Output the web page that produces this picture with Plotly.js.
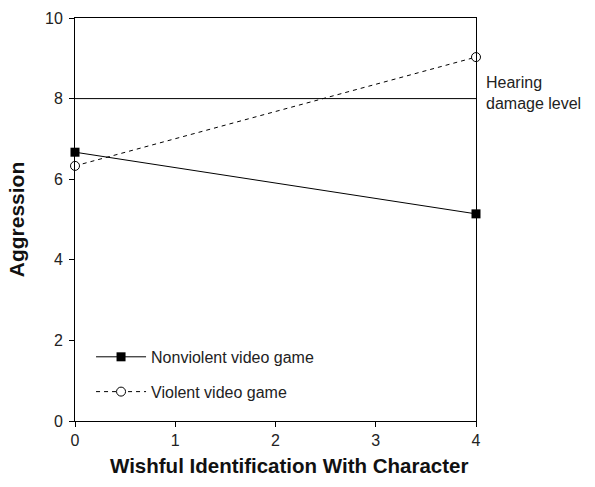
<!DOCTYPE html>
<html>
<head>
<meta charset="utf-8">
<script src="https://cdn.plot.ly/plotly-3.0.1.min.js"></script>
<style>html,body{margin:0;padding:0;background:#fff;}#chart{width:595px;height:487px;}</style>
</head>
<body>
<div id="chart"></div>
<script>
const identification = [0, 4];
const nonviolent = [6.67, 5.14];
const violent = [6.33, 9.03];
const seriesNames = ["Nonviolent video game", "Violent video game"];
const hearingLevel = 8;
const hearingLabel = "Hearing<br>damage level";
const xTitle = "Wishful Identification With Character";
const yTitle = "Aggression";
const xTicks = [0, 1, 2, 3, 4];
const yTicks = [0, 2, 4, 6, 8, 10];

const FONT = "Liberation Sans, Arial, sans-serif";

const traces = [
  {
    x: identification, y: nonviolent, name: seriesNames[0], type: "scatter", mode: "lines+markers",
    line: {color: "#000", width: 1},
    marker: {symbol: "square", size: 9, color: "#000"},
    cliponaxis: false, legendgroup: "a"
  },
  {
    x: identification, y: violent, name: seriesNames[1], type: "scatter", mode: "lines+markers",
    line: {color: "#000", width: 1, dash: "4px,4px"},
    marker: {symbol: "circle", size: 9, color: "#fff", line: {width: 1, color: "#000"}},
    cliponaxis: false, legendgroup: "b"
  }
];

const layout = {
  width: 595, height: 487,
  margin: {l: 75, r: 119, t: 18, b: 66},
  paper_bgcolor: "#fff", plot_bgcolor: "#fff",
  font: {family: FONT, size: 16, color: "#222"},
  showlegend: true,
  legend: {
    x: 0.04, y: 0.03, xanchor: "left", yanchor: "bottom",
    bgcolor: "rgba(0,0,0,0)", font: {family: FONT, size: 16, color: "#222"},
    tracegroupgap: 11, traceorder: "grouped", itemwidth: 50
  },
  xaxis: {
    range: [0, 4], tickvals: xTicks, ticktext: xTicks.map(String),
    showgrid: false, zeroline: false, showline: true, linecolor: "#000", linewidth: 1, mirror: true,
    ticks: "outside", ticklen: 5, tickcolor: "#000", tickfont: {size: 16, color: "#222"},
    fixedrange: true
  },
  yaxis: {
    range: [0, 10], tickvals: yTicks, ticktext: yTicks.map(String),
    showgrid: false, zeroline: false, showline: true, linecolor: "#000", linewidth: 1, mirror: true,
    ticks: "outside", ticklen: 5, tickcolor: "#000", tickfont: {size: 16, color: "#222"},
    ticklabelstandoff: 3,
    title: {text: yTitle, font: {size: 21, color: "#111", family: FONT, weight: "bold"}, standoff: 14},
    fixedrange: true
  },
  shapes: [
    {type: "line", xref: "paper", x0: 0, x1: 1, yref: "y", y0: hearingLevel, y1: hearingLevel, line: {color: "#000", width: 1}}
  ],
  annotations: [
    {xref: "paper", x: 1.02, xanchor: "left", yref: "y", y: hearingLevel + 0.15, yanchor: "middle",
     text: hearingLabel, showarrow: false, align: "left", font: {family: FONT, size: 16, color: "#222"}},
    {xref: "paper", x: 0.534, xanchor: "center", yref: "paper", y: -0.11, yanchor: "middle",
     text: "<b>" + xTitle + "</b>", showarrow: false, font: {family: FONT, size: 20.5, color: "#111"}}
  ]
};

Plotly.newPlot("chart", traces, layout, {displayModeBar: false, staticPlot: true});
</script>
</body>
</html>
